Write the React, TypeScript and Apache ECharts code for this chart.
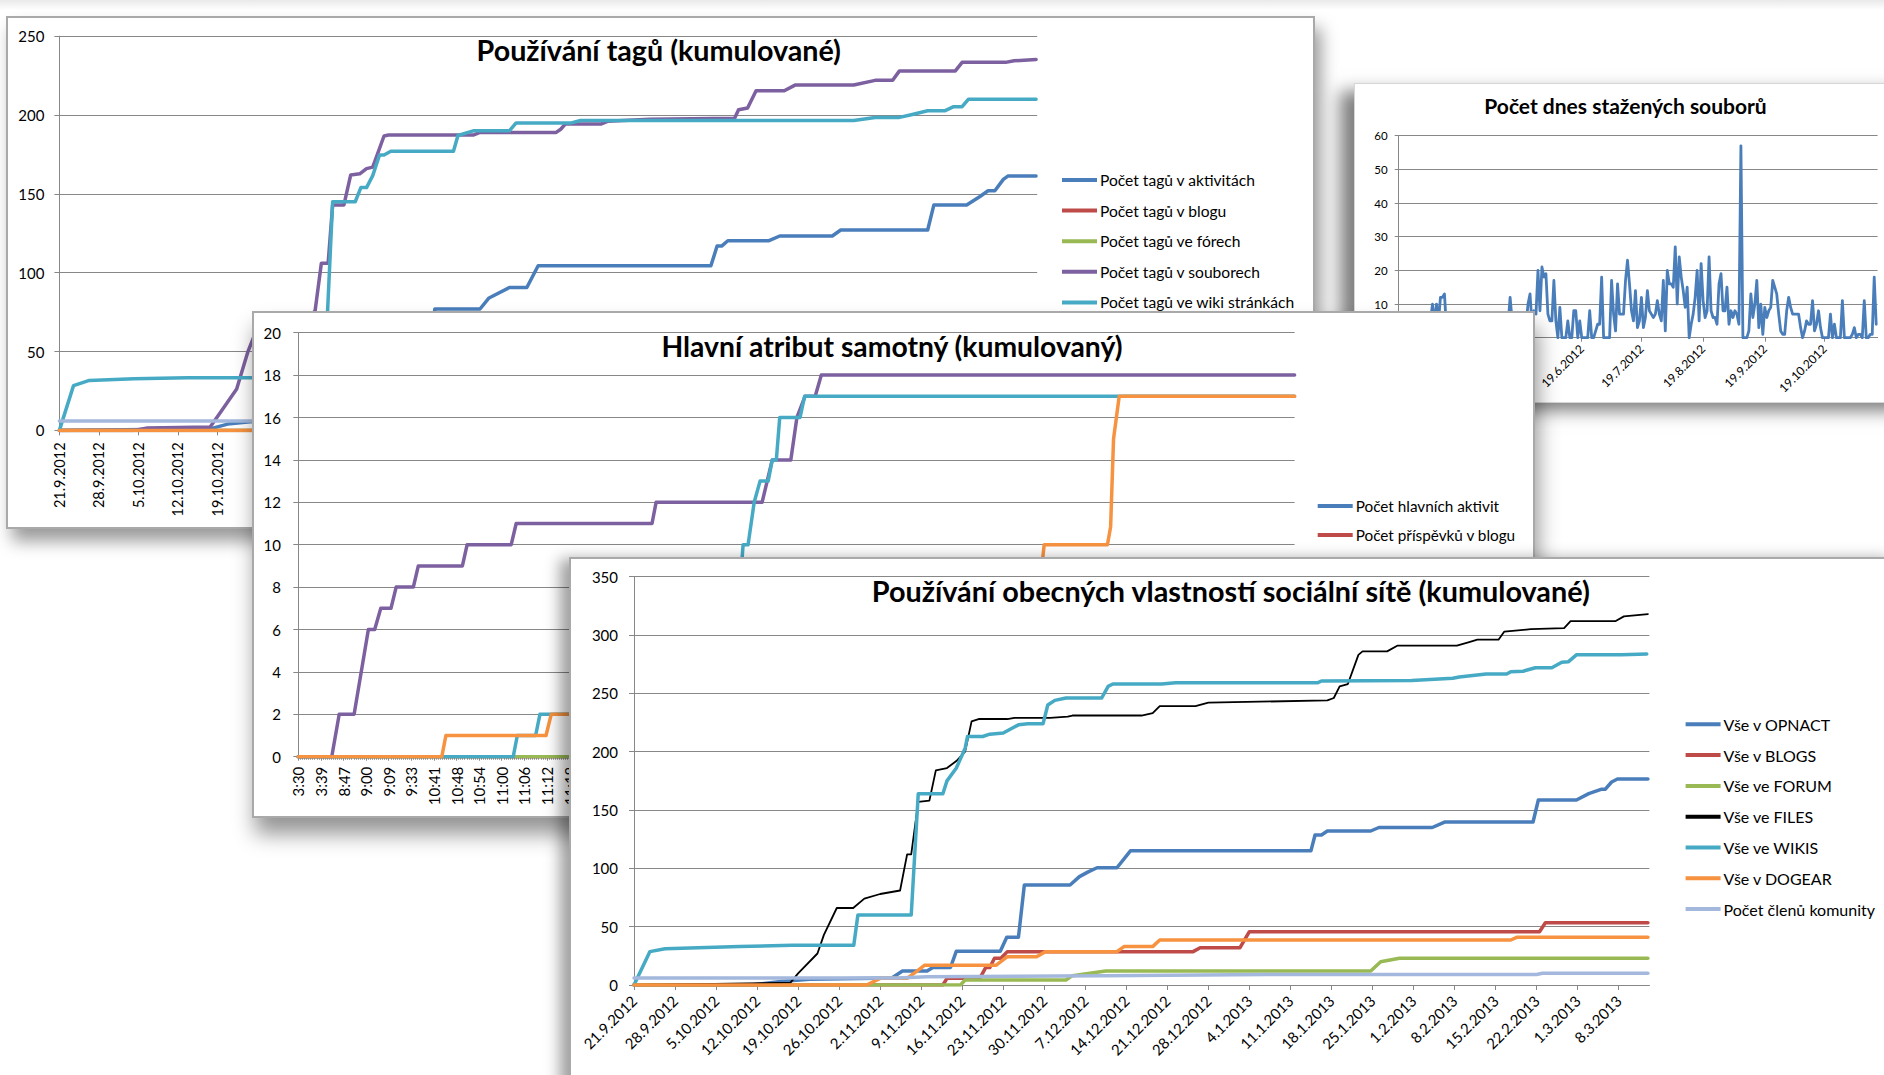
import React, { useEffect, useRef } from "react";
import * as echarts from "echarts";

type Pt = [number, number];

const FONT = "Lato, 'Noto Sans', 'DejaVu Sans', sans-serif";
const AXIS_GRAY = "#878787";
const TEXT = "#000000";
const BLUE = "#4a7ebb";
const RED = "#be4b48";
const GREEN = "#98b954";
const PURPLE = "#7d60a0";
const TEAL = "#46aac5";
const ORANGE = "#f69240";
const LAVENDER = "#a3b8dc";
const BLACK = "#000000";

// ================= Chart 1: Používání tagů (kumulované) =================
const tagsTitle = "Používání tagů (kumulované)";
const tagsLegendNames = [
  "Počet tagů v aktivitách",
  "Počet tagů v blogu",
  "Počet tagů ve fórech",
  "Počet tagů v souborech",
  "Počet tagů ve wiki stránkách",
];
const tagsWeekLabels = ["21.9.2012", "28.9.2012", "5.10.2012", "12.10.2012", "19.10.2012"];
// [day since 21.9.2012, value]
const tagsActivities: Pt[] = [[0,0],[26.7,1],[29.8,4],[33.8,5.5],[44,6],[46,10],[50,10],[51,13],[54,13],[55,25],[62.5,25],[63.5,37],[65.5,37],[66.5,77],[74.5,77],[76.1,84],[79.7,90.6],[82.8,90.6],[84.8,104.4],[115.4,104.4],[116.5,116.9],[117.3,116.9],[118.4,120.3],[125.7,120.3],[127.6,123.3],[136.9,123.3],[138.4,127.1],[153.8,127.1],[154.9,143],[160.7,143],[163,148.2],[164.5,152],[165.7,152],[167.2,159.2],[168,161.3],[173,161.3]];
const tagsBlogs: Pt[] = [[0,0],[173,0]];
const tagsForums: Pt[] = [[0,0],[173,0]];
const tagsFiles: Pt[] = [[0,0],[13.2,0],[15.6,1.5],[26.7,2.2],[28.2,9.8],[31.4,26.2],[33.4,50],[34.5,60],[37.5,62],[40,68],[44.5,72],[45.3,76],[46.4,106],[47.6,106],[48.4,143],[50.4,143],[51.6,162],[53.2,162.7],[54.4,166],[55.5,167],[57.5,186.7],[58.3,187.3],[73.3,187.3],[74.5,189],[88,189],[88.8,191],[89.6,194.3],[95.9,194.3],[97.1,196],[104.6,197.3],[119.6,198],[120.3,203.4],[121.9,204.5],[123.4,215.4],[128.4,215.4],[130.3,219],[140.7,219],[144.5,222],[147.6,222],[148.8,228],[158.7,228],[159.9,233.4],[167.6,233.4],[169.1,234.4],[173,235.3]];
const tagsWikis: Pt[] = [[0,0],[2.5,28.4],[5.3,31.7],[13.2,32.8],[22.7,33.4],[38,33.4],[38.5,60],[47.3,60],[48.4,145],[52.4,145],[53.4,154],[54.4,154],[55.5,161.6],[56.7,174.7],[57.5,174.7],[58.7,177],[69.8,177],[70.6,187],[73.3,190],[79.7,190],[80.9,195],[90.7,195],[92.3,196.5],[140.7,196.5],[144.5,198.5],[148.8,198.5],[150.7,200],[153.8,202.7],[156.8,202.7],[158.4,205.3],[159.9,205.3],[161,210],[173,210]];
const tagsBookmarks: Pt[] = [[0,0],[173,0]];
const tagsMembers: Pt[] = [[0,6],[173,6]];

// ================= Chart 2: Počet dnes stažených souborů =================
const downloadsTitle = "Počet dnes stažených souborů";
// one value per day, starting 19.3.2012
const downloadsPerDay = [
  0,3,5,2,0,4,6,3,1,5,
  2,0,4,7,3,1,5,10,4,10,
  5,12,12,13,3,1,0,2,4,1,
  0,3,6,2,0,1,4,2,0,5,
  3,1,0,2,6,3,0,1,4,2,
  0,3,5,1,0,4,12,5,2,0,
  3,6,2,1,4,10,13,4,8,7,
  20,8,21,18,19,7,5,5,17,5,
  0,9,0,0,0,5,0,0,8,8,
  0,5,0,0,0,0,8,0,0,2,
  4,4,18,0,0,0,0,17,7,2,
  16,7,7,7,17,23,16,8,5,14,
  3,5,12,3,6,14,8,7,6,7,
  11,7,5,17,2,20,16,16,15,27,
  10,24,18,14,9,15,0,4,7,12,
  20,5,22,11,6,8,24,8,6,6,
  4,16,19,8,8,15,4,8,6,8,
  7,4,57,0,0,0,2,13,6,10,
  17,3,10,1,9,6,8,9,17,15,
  13,7,2,1,1,8,12,9,7,7,
  7,7,3,0,2,5,4,4,11,2,
  4,8,3,0,0,0,0,7,0,4,
  0,0,0,11,0,0,0,0,1,3,
  0,1,1,0,11,0,0,1,1,18,
  4,
];
const downloadsMonthTickDays = [0, 31, 61, 92, 122, 153, 184, 214];
const downloadsLabelDays = [92, 122, 153, 184, 214];
const downloadsLabels = ["19.6.2012", "19.7.2012", "19.8.2012", "19.9.2012", "19.10.2012"];

// ================= Chart 3: Hlavní atribut samotný (kumulovaný) =================
const attrTitle = "Hlavní atribut samotný (kumulovaný)";
const attrLegendNames = ["Počet hlavních aktivit", "Počet příspěvků v blogu"];
const attrTimeLabels = ["3:30","3:39","8:47","9:00","9:09","9:33","10:41","10:48","10:54","11:00","11:06","11:12","11:18"];
// [position on the time-label axis, value]
const attrActivities: Pt[] = [[0,0],[44.08,0]];
const attrBlog: Pt[] = [[0,0],[44.08,0]];
const attrForum: Pt[] = [[0,0],[44.08,0]];
const attrFiles: Pt[] = [[0,0],[1.48,0],[1.81,2],[2.47,2],[3.1,6],[3.38,6],[3.65,7],[4.1,7],[4.33,8],[5.09,8],[5.31,9],[7.26,9],[7.47,10],[9.42,10],[9.64,11],[15.65,11],[15.83,12],[20.52,12],[20.97,14],[21.79,14],[22.06,16],[22.42,17],[22.87,17],[23.14,18],[44.08,18]];
const attrWikis: Pt[] = [[0,0],[9.51,0],[9.69,1],[10.5,1],[10.69,2],[14,2],[14.2,4],[17,4],[17.2,6],[19.4,6],[19.68,10],[19.9,10],[20.17,12],[20.43,13],[20.79,13],[20.97,14],[21.15,14],[21.3,16],[22.2,16],[22.4,17],[44.08,17]];
const attrBookmarks: Pt[] = [[0,0],[6.35,0],[6.53,1],[10.96,1],[11.19,2],[16,2],[16.2,3],[22,3],[22.2,5],[28,5],[28.2,7],[32.7,7],[33,10],[35.8,10],[35.94,10.85],[36.07,15],[36.32,17],[44.08,17]];

// ================= Chart 4: Používání obecných vlastností sociální sítě =================
const socialTitle = "Používání obecných vlastností sociální sítě (kumulované)";
const socialLegendNames = ["Vše v OPNACT","Vše v BLOGS","Vše ve FORUM","Vše ve FILES","Vše ve WIKIS","Vše v DOGEAR","Počet členů komunity"];
const weekLabels = ["21.9.2012","28.9.2012","5.10.2012","12.10.2012","19.10.2012","26.10.2012","2.11.2012","9.11.2012","16.11.2012","23.11.2012","30.11.2012","7.12.2012","14.12.2012","21.12.2012","28.12.2012","4.1.2013","11.1.2013","18.1.2013","25.1.2013","1.2.2013","8.2.2013","15.2.2013","22.2.2013","1.3.2013","8.3.2013"];
const opnact: Pt[] = [[0,0],[20,0],[25,3],[30,5],[44,6],[45.8,12],[50,12],[51,15],[54,15],[55,29],[62.5,29],[63.6,41],[65.6,41],[66.6,85.7],[74.4,85.7],[76,92.9],[77.5,97],[79,100.5],[82.4,100.5],[84.7,115],[115.5,115],[116.2,128.6],[117.3,128.6],[118.3,132],[125.7,132],[127.1,135],[136.2,135],[138.3,139.7],[153.4,139.7],[154.3,158.6],[160.8,158.6],[162.9,164],[165,167.7],[165.7,167.7],[166.8,174],[167.8,176.6],[173,176.6]];
const blogs: Pt[] = [[0,0],[52.7,0],[53.4,5.7],[59,5.7],[60,14.9],[60.7,14.9],[61.5,22.9],[62.6,22.9],[63.7,28.6],[95.4,28.6],[96.6,32],[103.4,32],[105,45.7],[154.5,45.7],[155.5,53.4],[173,53.4]];
const forum: Pt[] = [[0,0],[55.7,0],[56.5,4.3],[73.7,4.3],[74.8,8],[80.5,12],[125.7,12],[127.4,20],[130.6,22.9],[173,22.9]];
const files: Pt[] = [[0,0],[13.7,1],[26.7,2],[28,10],[31.3,27],[32.4,43],[34.6,66],[37.4,66],[39.3,74],[42,78],[45.4,81],[46.6,112],[47.3,112],[48.5,157],[50.4,158],[51.5,184],[53.4,186],[55,192],[56.5,200],[57.6,226],[58.8,228],[63.7,228],[64.9,229],[71,229],[74,230],[74.8,231],[86.6,231],[88.5,233],[89.7,239],[95.8,239],[98,242],[118.3,244],[119.4,246],[120.4,256],[121.8,258],[123.6,283],[124.3,286],[128.5,286],[130.3,291],[140.4,291],[142.5,294],[143.9,296],[147.5,296],[148.5,303],[153,305],[158.7,306],[159.8,312],[167.5,312],[168.9,316],[173,318]];
const wikis: Pt[] = [[0,0],[2.7,28.6],[5.3,31],[18,33],[27,34],[37.5,34],[38.2,60],[47.3,60],[48.5,164],[52.7,164],[53.4,175],[55,186],[56.5,203],[56.9,213],[59.5,213],[60.7,215],[63,216],[64.1,219],[65.6,223],[67.2,224],[69.8,224],[70.6,240],[71.8,244],[73.7,246],[79.8,246],[80.9,256],[81.7,258],[90,258],[92.4,259],[116.6,259],[117.3,260.6],[132.7,261],[139.7,263],[140.8,264],[145.4,266.6],[148.9,266.6],[149.6,268.6],[151.7,269],[153.8,272],[156.6,272],[158.3,276.6],[159.4,277],[160.8,283],[168.5,283],[172.8,283.7]];
const dogear: Pt[] = [[0,0],[39.7,0],[42,5.7],[46.6,5.7],[48.9,14.3],[49.6,17],[61.8,17],[63.7,24.3],[68.7,24.3],[70.2,28.6],[82.4,28.6],[83.6,32.9],[88.5,32.9],[89.7,38.6],[149.6,38.6],[150.6,40.9],[173,40.9]];
const members: Pt[] = [[0,6],[45,6],[50,7],[80,8],[108,9],[154,9],[155,10],[173,10]];

// ================= helpers =================
function line(name: string, data: Pt[], color: string, width = 3.5) {
  return {
    type: "line",
    name,
    data,
    showSymbol: false,
    symbol: "none",
    silent: true,
    color,
    lineStyle: { color, width, cap: "round", join: "round" },
    itemStyle: { color },
    emphasis: { disabled: true },
  };
}

function titleText(text: string, x: number, y: number, size: number) {
  return {
    type: "text",
    x,
    y,
    silent: true,
    style: {
      text,
      fill: "#000",
      fontSize: size,
      fontWeight: "bold",
      fontFamily: FONT,
      align: "center",
      verticalAlign: "middle",
      textAlign: "center",
      textVerticalAlign: "middle",
    },
  };
}

function yAxis(max: number, interval: number, fontSize: number, margin: number, extra: any = {}) {
  return {
    type: "value",
    min: 0,
    max,
    interval,
    axisLine: { show: true, lineStyle: { color: AXIS_GRAY, width: 1 } },
    axisTick: { show: true, length: 5, lineStyle: { color: AXIS_GRAY } },
    axisLabel: { color: TEXT, fontSize, fontFamily: FONT, margin },
    splitLine: { show: true, lineStyle: { color: AXIS_GRAY, width: 1 } },
    ...extra,
  };
}

function legend(names: string[], left: number, firstCenter: number, pitch: number, fontSize: number) {
  const lh = 17;
  return {
    orient: "vertical",
    left,
    top: firstCenter - lh / 2,
    padding: 0,
    itemGap: pitch - lh,
    itemWidth: 35,
    itemHeight: 4,
    icon: "rect",
    selectedMode: false,
    textStyle: { color: TEXT, fontSize, fontFamily: FONT, lineHeight: lh, padding: [0, 0, 0, -2] },
    data: names,
  };
}

const weekTickDays = weekLabels.map((_, i) => i * 7);

// ================= options =================
const optionTags = {
  animation: false,
  grid: { left: 51.4, top: 18.2, width: 977.8, height: 394.2 },
  xAxis: {
    type: "value",
    min: 0,
    max: 173.2,
    axisLine: { show: true, onZero: false, lineStyle: { color: AXIS_GRAY } },
    axisTick: { show: true, length: 5, customValues: weekTickDays, lineStyle: { color: AXIS_GRAY } },
    axisLabel: {
      customValues: tagsWeekLabels.map((_, i) => i * 7),
      formatter: (v: number) => tagsWeekLabels[Math.round(v / 7)] ?? "",
      rotate: 90,
      fontSize: 14.5,
      fontFamily: FONT,
      color: TEXT,
      margin: 12,
    },
    splitLine: { show: false },
  },
  yAxis: yAxis(250, 50, 15, 15),
  legend: legend(tagsLegendNames, 1054, 162, 30.6, 15.6),
  graphic: [titleText(tagsTitle, 650.8, 32, 28.7)],
  series: [
    line(tagsLegendNames[0], tagsActivities, BLUE),
    line(tagsLegendNames[1], tagsBlogs, RED),
    line(tagsLegendNames[2], tagsForums, GREEN),
    line(tagsLegendNames[3], tagsFiles, PURPLE),
    line(tagsLegendNames[4], tagsWikis, TEAL),
    line("záložky", tagsBookmarks, ORANGE),
    line("členové", tagsMembers, LAVENDER),
  ],
};

const optionDownloads = {
  animation: false,
  grid: { left: 42.7, top: 51.7, width: 479.9, height: 202 },
  xAxis: {
    type: "value",
    min: -0.5,
    max: 240.7,
    axisLine: { show: true, onZero: false, lineStyle: { color: AXIS_GRAY } },
    axisTick: { show: true, length: 4, customValues: downloadsMonthTickDays, lineStyle: { color: AXIS_GRAY } },
    axisLabel: {
      customValues: downloadsLabelDays,
      formatter: (v: number) => downloadsLabels[downloadsLabelDays.indexOf(Math.round(v))] ?? "",
      rotate: 45,
      fontSize: 12,
      fontFamily: FONT,
      color: TEXT,
      margin: 9,
    },
    splitLine: { show: false },
  },
  yAxis: yAxis(60, 10, 11.5, 10, { axisTick: { show: true, length: 4, lineStyle: { color: AXIS_GRAY } } }),
  graphic: [titleText(downloadsTitle, 270.5, 21.5, 21)],
  series: [line("Počet dnes stažených souborů", downloadsPerDay.map((v, i) => [i, v] as Pt), BLUE, 2.8)],
};

const optionAttr = {
  animation: false,
  grid: { left: 44.3, top: 19.7, width: 996.3, height: 424 },
  xAxis: {
    type: "value",
    min: 0,
    max: 44.08,
    interval: 1,
    axisLine: { show: true, onZero: false, lineStyle: { color: AXIS_GRAY } },
    axisTick: { show: true, length: 4, lineStyle: { color: AXIS_GRAY } },
    minorTick: { show: true, splitNumber: 11, length: 3, lineStyle: { color: AXIS_GRAY } },
    axisLabel: {
      formatter: (v: number) => (Number.isInteger(v) ? attrTimeLabels[v] ?? "" : ""),
      rotate: 90,
      fontSize: 15,
      fontFamily: FONT,
      color: TEXT,
      margin: 10,
      showMaxLabel: false,
    },
    splitLine: { show: false },
    minorSplitLine: { show: false },
  },
  yAxis: yAxis(20, 2, 15, 13, { offset: 4.3 }),
  legend: legend(attrLegendNames, 1063.7, 193, 29, 15.3),
  graphic: [titleText(attrTitle, 638, 32.5, 28.3)],
  series: [
    line(attrLegendNames[0], attrActivities, BLUE),
    line(attrLegendNames[1], attrBlog, RED),
    line("fórum", attrForum, GREEN),
    line("soubory", attrFiles, PURPLE),
    line("wiki", attrWikis, TEAL),
    line("záložky", attrBookmarks, ORANGE),
  ],
};

const optionSocial = {
  animation: false,
  grid: { left: 63, top: 17.7, width: 1015.4, height: 408.3 },
  xAxis: {
    type: "value",
    min: 0,
    max: 173.25,
    axisLine: { show: true, onZero: false, lineStyle: { color: AXIS_GRAY } },
    axisTick: { show: true, length: 5, customValues: weekTickDays, lineStyle: { color: AXIS_GRAY } },
    axisLabel: {
      customValues: weekTickDays,
      formatter: (v: number) => weekLabels[Math.round(v / 7)] ?? "",
      rotate: 45,
      fontSize: 15,
      fontFamily: FONT,
      color: TEXT,
      margin: 13,
    },
    splitLine: { show: false },
  },
  yAxis: yAxis(350, 50, 15, 16),
  legend: legend(socialLegendNames, 1114.6, 165.3, 30.8, 16),
  graphic: [titleText(socialTitle, 659.8, 32, 28.8)],
  series: [
    line(socialLegendNames[0], opnact, BLUE),
    line(socialLegendNames[1], blogs, RED),
    line(socialLegendNames[2], forum, GREEN),
    line(socialLegendNames[3], files, BLACK, 1.8),
    line(socialLegendNames[4], wikis, TEAL),
    line(socialLegendNames[5], dogear, ORANGE),
    line(socialLegendNames[6], members, LAVENDER),
  ],
};

type Box = { left: number; top: number; width: number; height: number; border: number; borderColor: string; shadow: string; z: number };

function Card({ box, option }: { box: Box; option: any }) {
  const ref = useRef<HTMLDivElement>(null);
  useEffect(() => {
    if (!ref.current) return;
    const chart = echarts.init(ref.current, undefined, { renderer: "svg" });
    chart.setOption(option);
    return () => chart.dispose();
  }, [option]);
  const b = box.border;
  return (
    <div
      style={{
        position: "absolute",
        left: box.left,
        top: box.top,
        width: box.width,
        height: box.height,
        boxSizing: "border-box",
        border: `${b}px solid ${box.borderColor}`,
        background: "#ffffff",
        boxShadow: box.shadow,
        zIndex: box.z,
      }}
    >
      <div ref={ref} style={{ position: "absolute", left: 0, top: 0, width: box.width - 2 * b, height: box.height - 2 * b }} />
    </div>
  );
}

const boxTags: Box = { left: 6, top: 16, width: 1309, height: 513, border: 2, borderColor: "#a9a9a9", shadow: "6px 12px 16px rgba(0,0,0,0.4)", z: 1 };
const boxDownloads: Box = { left: 1354, top: 83, width: 560, height: 320, border: 1, borderColor: "#d6d6d6", shadow: "-14px 8px 16px rgba(0,0,0,0.5)", z: 2 };
const boxAttr: Box = { left: 252, top: 311, width: 1283, height: 507, border: 2, borderColor: "#a9a9a9", shadow: "3px 16px 20px rgba(0,0,0,0.42)", z: 3 };
const boxSocial: Box = { left: 569, top: 557, width: 1330, height: 530, border: 2, borderColor: "#a9a9a9", shadow: "-9px 2px 14px rgba(0,0,0,0.38)", z: 4 };

export default function App() {
  return (
    <div style={{ position: "fixed", left: 0, top: 0, width: 1884, height: 1075, overflow: "hidden", background: "#ffffff" }}>
      <div style={{ position: "absolute", left: 0, top: 0, width: 1884, height: 10, background: "linear-gradient(#e9e9e9, #ffffff)" }} />
      <Card box={boxTags} option={optionTags} />
      <Card box={boxDownloads} option={optionDownloads} />
      <Card box={boxAttr} option={optionAttr} />
      <Card box={boxSocial} option={optionSocial} />
    </div>
  );
}
